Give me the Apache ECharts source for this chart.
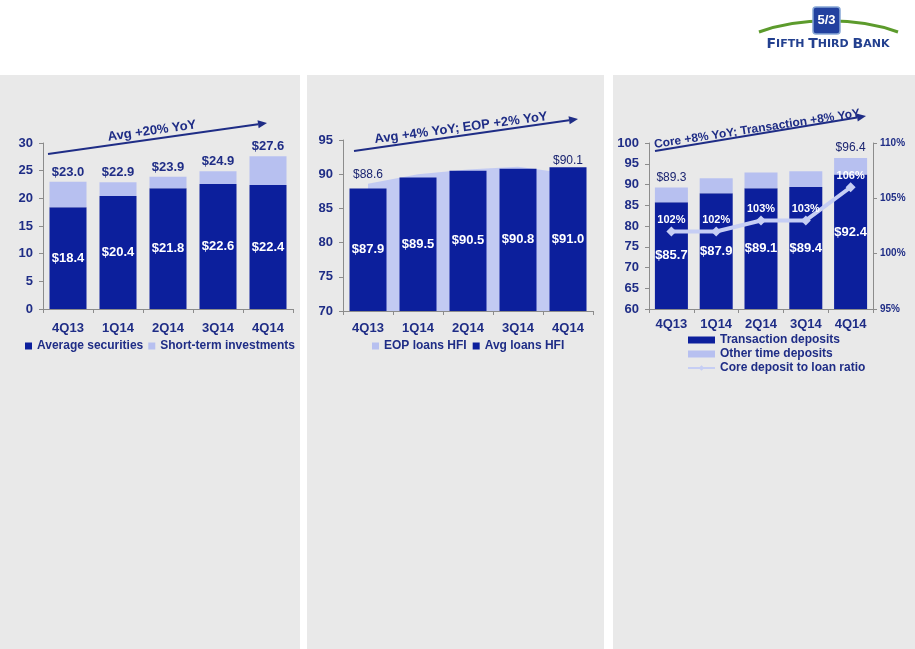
<!DOCTYPE html>
<html>
<head>
<meta charset="utf-8">
<script src="https://cdn.jsdelivr.net/npm/echarts@6/dist/echarts.min.js"></script>
<style>
  body { margin: 0; background: #fff; }
  .panel { position: absolute; top: 75px; height: 574px; background: #e9e9e9; }
  #chart { position: absolute; left: 0; top: 0; width: 915px; height: 649px; }
</style>
</head>
<body>
<div class="panel" style="left:0;width:300px"></div>
<div class="panel" style="left:307px;width:297px"></div>
<div class="panel" style="left:613px;width:302px"></div>
<div id="chart"></div>
<script>
// quarters shared by all three panels
var quarters = ['4Q13', '1Q14', '2Q14', '3Q14', '4Q14'];

// securities ($B)
var avgSecurities = [18.4, 20.4, 21.8, 22.6, 22.4];
var shortTermInv = [4.6, 2.5, 2.1, 2.3, 5.2];
var totalSecurities = [23.0, 22.9, 23.9, 24.9, 27.6];

// loans ($B)
var eopLoans = [88.6, 90.0, 90.7, 91.1, 90.1];
var avgLoans = [87.9, 89.5, 90.5, 90.8, 91.0];

// deposits ($B) and ratio (%)
var transactionDep = [85.7, 87.9, 89.1, 89.4, 92.4];
var otherTimeDep = [3.6, 3.6, 3.8, 3.8, 4.0];
var totalCoreDep = [89.3, 91.5, 92.9, 93.2, 96.4];
var coreToLoanRatio = [102, 102, 103, 103, 106];

var navy = '#1f2d86';
var dark = '#0c1f9c';
var light = '#b7c0f0';
var axisGrey = '#8c8c8c';
var font = 'Arial, "Liberation Sans", sans-serif';

function money(v) { return '$' + v.toFixed(1); }
function firstLast(arr) {
    return function (p) {
        var i = p.dataIndex;
        return (i === 0 || i === arr.length - 1) ? money(arr[i]) : '';
    };
}

function xAxisFor(i, margin) {
    return {
        type: 'category', gridIndex: i, data: quarters,
        axisLine: { lineStyle: { color: axisGrey } },
        axisTick: { show: true, length: 4, lineStyle: { color: axisGrey } },
        axisLabel: { color: navy, fontWeight: 'bold', fontSize: 13, fontFamily: font, margin: margin }
    };
}
function yAxisFor(i, min, max, extra) {
    var ax = {
        type: 'value', gridIndex: i, min: min, max: max, interval: 5,
        splitLine: { show: false },
        axisLine: { show: true, lineStyle: { color: axisGrey } },
        axisTick: { show: true, length: 4, lineStyle: { color: axisGrey } },
        axisLabel: { color: navy, fontWeight: 'bold', fontSize: 13, fontFamily: font, margin: 10 }
    };
    return Object.assign(ax, extra || {});
}

// arrow with rotated caption above it
function trendArrow(x1, y1, x2, y2, text, tx, ty, deg, size) {
    var ang = Math.atan2(y2 - y1, x2 - x1);
    var len = 9, half = 4;
    var bx = x2 - len * Math.cos(ang), by = y2 - len * Math.sin(ang);
    return [
        { type: 'line', shape: { x1: x1, y1: y1, x2: bx, y2: by },
          style: { stroke: navy, lineWidth: 2 } },
        { type: 'polygon', shape: { points: [[x2, y2],
            [bx + half * Math.sin(ang), by - half * Math.cos(ang)],
            [bx - half * Math.sin(ang), by + half * Math.cos(ang)]] },
          style: { fill: navy } },
        { type: 'text', x: tx, y: ty, rotation: deg * Math.PI / 180,
          style: { text: text, fill: navy, font: 'bold ' + (size || 13) + 'px ' + font,
                   align: 'center', verticalAlign: 'middle' } }
    ];
}

var chart = echarts.init(document.getElementById('chart'), null, { renderer: 'canvas' });

var option = {
    backgroundColor: 'transparent',
    animation: false,
    textStyle: { fontFamily: font },
    grid: [
        { left: 43, width: 250, top: 143, height: 166 },
        { left: 343, width: 250, top: 140, height: 171 },
        { left: 649, width: 224, top: 143, height: 166 }
    ],
    legend: [
        { left: 20, top: 335, itemWidth: 7, itemHeight: 7, itemGap: 5, icon: 'rect',
          data: ['Average securities', 'Short-term investments'],
          textStyle: { color: navy, fontWeight: 'bold', fontSize: 12, fontFamily: font } },
        { left: 367, top: 335, itemWidth: 7, itemHeight: 7, itemGap: 6, icon: 'rect',
          data: ['EOP loans HFI', 'Avg loans HFI'],
          textStyle: { color: navy, fontWeight: 'bold', fontSize: 12, fontFamily: font } },
        { left: 682, top: 329, orient: 'vertical', itemWidth: 27, itemHeight: 7, itemGap: 2,
          data: [{ name: 'Transaction deposits', icon: 'rect' },
                 { name: 'Other time deposits', icon: 'rect' },
                 'Core deposit to loan ratio'],
          textStyle: { color: navy, fontWeight: 'bold', fontSize: 12, fontFamily: font } }
    ],
    xAxis: [xAxisFor(0, 13), xAxisFor(1, 11), xAxisFor(2, 9)],
    yAxis: [
        yAxisFor(0, 0, 30),
        yAxisFor(1, 70, 95),
        yAxisFor(2, 60, 100),
        yAxisFor(2, 95, 110, {
            position: 'right',
            axisLabel: { color: navy, fontWeight: 'bold', fontSize: 10, fontFamily: font,
                         margin: 7, formatter: '{value}%' }
        })
    ],
    series: [
        // securities
        { name: 'Average securities', type: 'bar', stack: 'sec', xAxisIndex: 0, yAxisIndex: 0,
          data: avgSecurities, barWidth: 37, itemStyle: { color: dark },
          label: { show: true, position: 'inside', color: '#fff', fontWeight: 'bold', fontSize: 13,
                   formatter: function (p) { return money(p.value); } } },
        { name: 'Short-term investments', type: 'bar', stack: 'sec', xAxisIndex: 0, yAxisIndex: 0,
          data: shortTermInv, barWidth: 37, itemStyle: { color: light },
          label: { show: true, position: 'top', distance: 3, color: navy, fontSize: 13, fontWeight: 'bold',
                   formatter: function (p) { return money(totalSecurities[p.dataIndex]); } } },

        // loans
        { name: 'EOP loans HFI', type: 'line', xAxisIndex: 1, yAxisIndex: 1, z: 1,
          data: eopLoans, symbol: 'none', itemStyle: { color: light },
          lineStyle: { width: 0 }, areaStyle: { color: '#c2caf2', opacity: 1, origin: 'start' } },
        { name: 'Avg loans HFI', type: 'bar', xAxisIndex: 1, yAxisIndex: 1, z: 2,
          data: avgLoans, barWidth: 37, itemStyle: { color: dark },
          label: { show: true, position: 'inside', color: '#fff', fontWeight: 'bold', fontSize: 13,
                   formatter: function (p) { return money(p.value); } } },
        { name: 'EOP labels', type: 'scatter', xAxisIndex: 1, yAxisIndex: 1, z: 5,
          data: eopLoans.map(function (v, i) {
              return i === eopLoans.length - 1 ? { value: v, label: { distance: 7 } } : v;
          }),
          symbolSize: 0, silent: true, itemStyle: { opacity: 1 },
          label: { show: true, position: 'top', distance: 3, color: '#1a2470', fontSize: 12,
                   formatter: firstLast(eopLoans) } },

        // deposits
        { name: 'Transaction deposits', type: 'bar', stack: 'dep', xAxisIndex: 2, yAxisIndex: 2,
          data: transactionDep.map(function (v, i) {
              return i === transactionDep.length - 1 ? { value: v, label: { offset: [0, -9] } } : v;
          }),
          barWidth: 33, itemStyle: { color: dark },
          label: { show: true, position: 'inside', offset: [0, 0], color: '#fff', fontWeight: 'bold', fontSize: 13,
                   formatter: function (p) { return money(p.value); } } },
        { name: 'Other time deposits', type: 'bar', stack: 'dep', xAxisIndex: 2, yAxisIndex: 2,
          data: otherTimeDep, barWidth: 33, itemStyle: { color: light },
          label: { show: true, position: 'top', distance: 4, color: '#1a2470', fontSize: 12,
                   formatter: firstLast(totalCoreDep) } },
        { name: 'Core deposit to loan ratio', type: 'line', xAxisIndex: 2, yAxisIndex: 3, z: 4,
          data: coreToLoanRatio, symbol: 'diamond', symbolSize: 10,
          itemStyle: { color: '#c6cef4' }, lineStyle: { color: '#c6cef4', width: 4 },
          label: { show: true, position: 'top', distance: 1, color: '#fff', fontWeight: 'bold', fontSize: 11,
                   formatter: '{c}%' } }
    ],
    graphic: [].concat(
        trendArrow(48, 154, 267, 123, 'Avg +20% YoY', 152, 131, 8),
        trendArrow(354, 151, 578, 119, 'Avg +4% YoY; EOP +2% YoY', 461, 128, 7.6),
        trendArrow(655, 151, 866, 116, 'Core +8% YoY; Transaction +8% YoY', 757, 129, 8.7, 12),
        [
            // logo
            { type: 'bezierCurve',
              shape: { x1: 759, y1: 32, x2: 898, y2: 32, cpx1: 800, cpy1: 17, cpx2: 857, cpy2: 17 },
              style: { stroke: '#5c9b2c', lineWidth: 3, fill: null } },
            { type: 'rect', shape: { x: 813, y: 7, width: 27, height: 27, r: 3 },
              style: { fill: '#22419f', stroke: '#86a6d6', lineWidth: 1.5 } },
            { type: 'text', x: 826.5, y: 20.5,
              style: { text: '5/3', fill: '#fff', font: 'bold 13px ' + font,
                       align: 'center', verticalAlign: 'middle' } },
            { type: 'text', x: 828, y: 44,
              style: {
                  text: '{a|F}{b|IFTH }{a|T}{b|HIRD }{a|B}{b|ANK}',
                  align: 'center', verticalAlign: 'middle',
                  rich: {
                      a: { fill: '#23408f', font: 'bold 14px "DejaVu Sans", sans-serif' },
                      b: { fill: '#23408f', font: 'bold 11px "DejaVu Sans", sans-serif' }
                  }
              } }
        ]
    )
};

chart.setOption(option);
</script>
</body>
</html>
